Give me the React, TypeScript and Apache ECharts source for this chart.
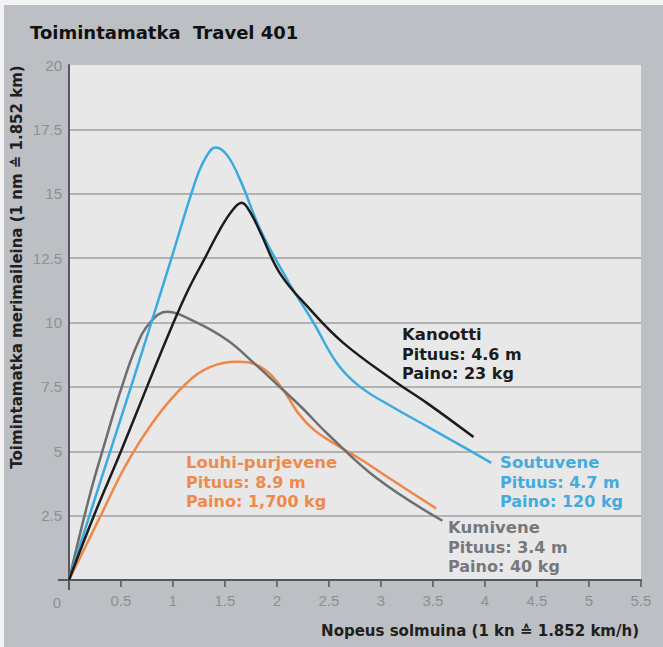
import React, { useEffect, useRef } from "react";
import * as echarts from "echarts";

// ---- data ----
const xTicks = [0, 0.5, 1, 1.5, 2, 2.5, 3, 3.5, 4, 4.5, 5, 5.5];
const yTicks = [0, 2.5, 5, 7.5, 10, 12.5, 15, 17.5, 20];

const soutuvene: number[][] = [
  [0, 0], [0.3, 3.8], [0.62, 7.8], [0.97, 12.3], [1.2, 15.3], [1.3, 16.3],
  [1.41, 16.8], [1.52, 16.5], [1.65, 15.5], [1.84, 13.6], [2.1, 11.65],
  [2.35, 10.0], [2.58, 8.4], [2.8, 7.5], [3.12, 6.7], [3.45, 5.95],
  [3.8, 5.15], [4.06, 4.55],
];
const kanootti: number[][] = [
  [0, 0], [0.25, 2.6], [0.5, 5.0], [0.75, 7.5], [1.0, 9.95], [1.15, 11.3],
  [1.3, 12.45], [1.45, 13.6], [1.57, 14.35], [1.66, 14.65], [1.74, 14.3],
  [1.84, 13.5], [2.03, 11.9], [2.32, 10.5], [2.64, 9.2], [3.12, 7.75],
  [3.45, 6.85], [3.89, 5.55],
];
const kumivene: number[][] = [
  [0, 0], [0.2, 3.3], [0.35, 5.4], [0.5, 7.4], [0.65, 9.1], [0.78, 10.0],
  [0.94, 10.42], [1.2, 10.05], [1.52, 9.32], [1.78, 8.42], [2.0, 7.6],
  [2.25, 6.65], [2.48, 5.7], [2.96, 3.95], [3.59, 2.3],
];
const louhi: number[][] = [
  [0, 0], [0.3, 2.46], [0.556, 4.53], [0.845, 6.34], [1.13, 7.64],
  [1.36, 8.28], [1.615, 8.48], [1.84, 8.28], [2.03, 7.55], [2.2, 6.5],
  [2.35, 5.85], [2.55, 5.3], [2.8, 4.7], [3.1, 3.9], [3.53, 2.78],
];

const titleText = "Toimintamatka  Travel 401";
const yTitle = "Toimintamatka merimaileina (1 nm ≙ 1.852 km)";
const xTitle = "Nopeus solmuina (1 kn ≙ 1.852 km/h)";

const labelsKanootti = ["Kanootti", "Pituus: 4.6 m", "Paino: 23 kg"];
const labelsSoutuvene = ["Soutuvene", "Pituus: 4.7 m", "Paino: 120 kg"];
const labelsKumivene = ["Kumivene", "Pituus: 3.4 m", "Paino: 40 kg"];
const labelsLouhi = ["Louhi-purjevene", "Pituus: 8.9 m", "Paino: 1,700 kg"];

const C_BLUE = "#3aabdf";
const C_BLACK = "#1c1c1c";
const C_GRAY = "#6d6e70";
const C_ORANGE = "#ee8748";
const T_BLUE = "#45aadc";
const T_GRAY = "#77787b";
const T_ORANGE = "#ef8a4c";

const FONT = "DejaVu Sans";

function block(lines: string[], x: number, y: number, color: string) {
  return {
    type: "text",
    x,
    y,
    z: 100,
    style: {
      text: `{a|${lines[0]}}\n{b|${lines[1]}}\n{b|${lines[2]}}`,
      fill: color,
      align: "left",
      verticalAlign: "top",
      rich: {
        a: { fontFamily: FONT, fontSize: 16.5, fontWeight: "bold", fill: color, lineHeight: 19.5 },
        b: { fontFamily: FONT, fontSize: 16, fontWeight: "bold", fill: color, lineHeight: 19.5 },
      },
    },
  };
}

function lineSeries(name: string, data: number[][], color: string) {
  return {
    type: "line",
    name,
    data,
    smooth: 0.4,
    showSymbol: false,
    symbol: "none",
    lineStyle: { color, width: 2.5 },
    z: 5,
  };
}

export default function App() {
  const ref = useRef<HTMLDivElement>(null);
  useEffect(() => {
    if (!ref.current) return;
    const chart = echarts.init(ref.current, undefined, { renderer: "svg" });
    const splitColors = yTicks.map((v, i) => (i === 0 || i === yTicks.length - 1 ? "rgba(0,0,0,0)" : "#b1b2b4"));
    chart.setOption({
      animation: false,
      backgroundColor: "#bcbfc3",
      grid: {
        left: 69,
        right: 22,
        top: 65,
        bottom: 67,
        show: true,
        backgroundColor: "#e8e8e8",
        borderWidth: 0,
      },
      xAxis: {
        type: "value",
        min: xTicks[0],
        max: xTicks[xTicks.length - 1],
        interval: 0.5,
        axisLine: { show: true, onZero: false, lineStyle: { color: "#55585c", width: 2 } },
        axisTick: { show: true, length: 7, lineStyle: { color: "#55585c", width: 1.5 } },
        splitLine: { show: false },
        axisLabel: {
          margin: 13,
          color: "#8c9095",
          fontFamily: "Liberation Sans",
          fontSize: 15,
          formatter: (v: number) => (v === 0 ? "" : String(v)),
        },
      },
      yAxis: {
        type: "value",
        min: yTicks[0],
        max: yTicks[yTicks.length - 1],
        interval: 2.5,
        axisLine: { show: true, lineStyle: { color: "#55585c", width: 2 } },
        axisTick: { show: false },
        splitLine: { show: true, lineStyle: { color: splitColors, width: 2 } },
        axisLabel: {
          margin: 7,
          color: "#8c9095",
          fontFamily: "Liberation Sans",
          fontSize: 15,
          formatter: (v: number) => (v === 0 ? "" : String(v)),
        },
      },
      series: [
        lineSeries("Louhi-purjevene", louhi, C_ORANGE),
        lineSeries("Kumivene", kumivene, C_GRAY),
        lineSeries("Soutuvene", soutuvene, C_BLUE),
        lineSeries("Kanootti", kanootti, C_BLACK),
      ],
      graphic: [
        { type: "rect", shape: { x: 0, y: 0, width: 663, height: 5 }, style: { fill: "#f3f3f3" } },
        { type: "rect", shape: { x: 0, y: 0, width: 4, height: 647 }, style: { fill: "#f3f3f3" } },
        { type: "line", shape: { x1: 58, y1: 580, x2: 69, y2: 580 }, style: { stroke: "#55585c", lineWidth: 2 } },
        { type: "line", shape: { x1: 69, y1: 579, x2: 69, y2: 590 }, style: { stroke: "#55585c", lineWidth: 2 } },
        {
          type: "text",
          x: 57,
          y: 602,
          style: { text: String(xTicks[0]), fontFamily: "Liberation Sans", fontSize: 15, fill: "#8c9095", align: "center", verticalAlign: "middle" },
        },
        {
          type: "text",
          x: 30,
          y: 32,
          style: { text: titleText, fontFamily: FONT, fontSize: 18, fontWeight: "bold", fill: "#111111", align: "left", verticalAlign: "middle" },
        },
        {
          type: "text",
          x: 17,
          y: 267,
          rotation: Math.PI / 2,
          style: { text: yTitle, fontFamily: FONT, fontSize: 15, fontWeight: "bold", fill: "#202020", align: "center", verticalAlign: "middle" },
        },
        {
          type: "text",
          x: 639,
          y: 631,
          style: { text: xTitle, fontFamily: FONT, fontSize: 15, fontWeight: "bold", fill: "#202020", align: "right", verticalAlign: "middle" },
        },
        block(labelsKanootti, 402, 325, C_BLACK),
        block(labelsSoutuvene, 500, 453, T_BLUE),
        block(labelsKumivene, 448, 518, T_GRAY),
        block(labelsLouhi, 186, 453, T_ORANGE),
      ],
    });
    return () => chart.dispose();
  }, []);
  return (
    <div
      ref={ref}
      style={{ position: "absolute", left: 0, top: 0, width: 663, height: 647, background: "#fff" }}
    />
  );
}
